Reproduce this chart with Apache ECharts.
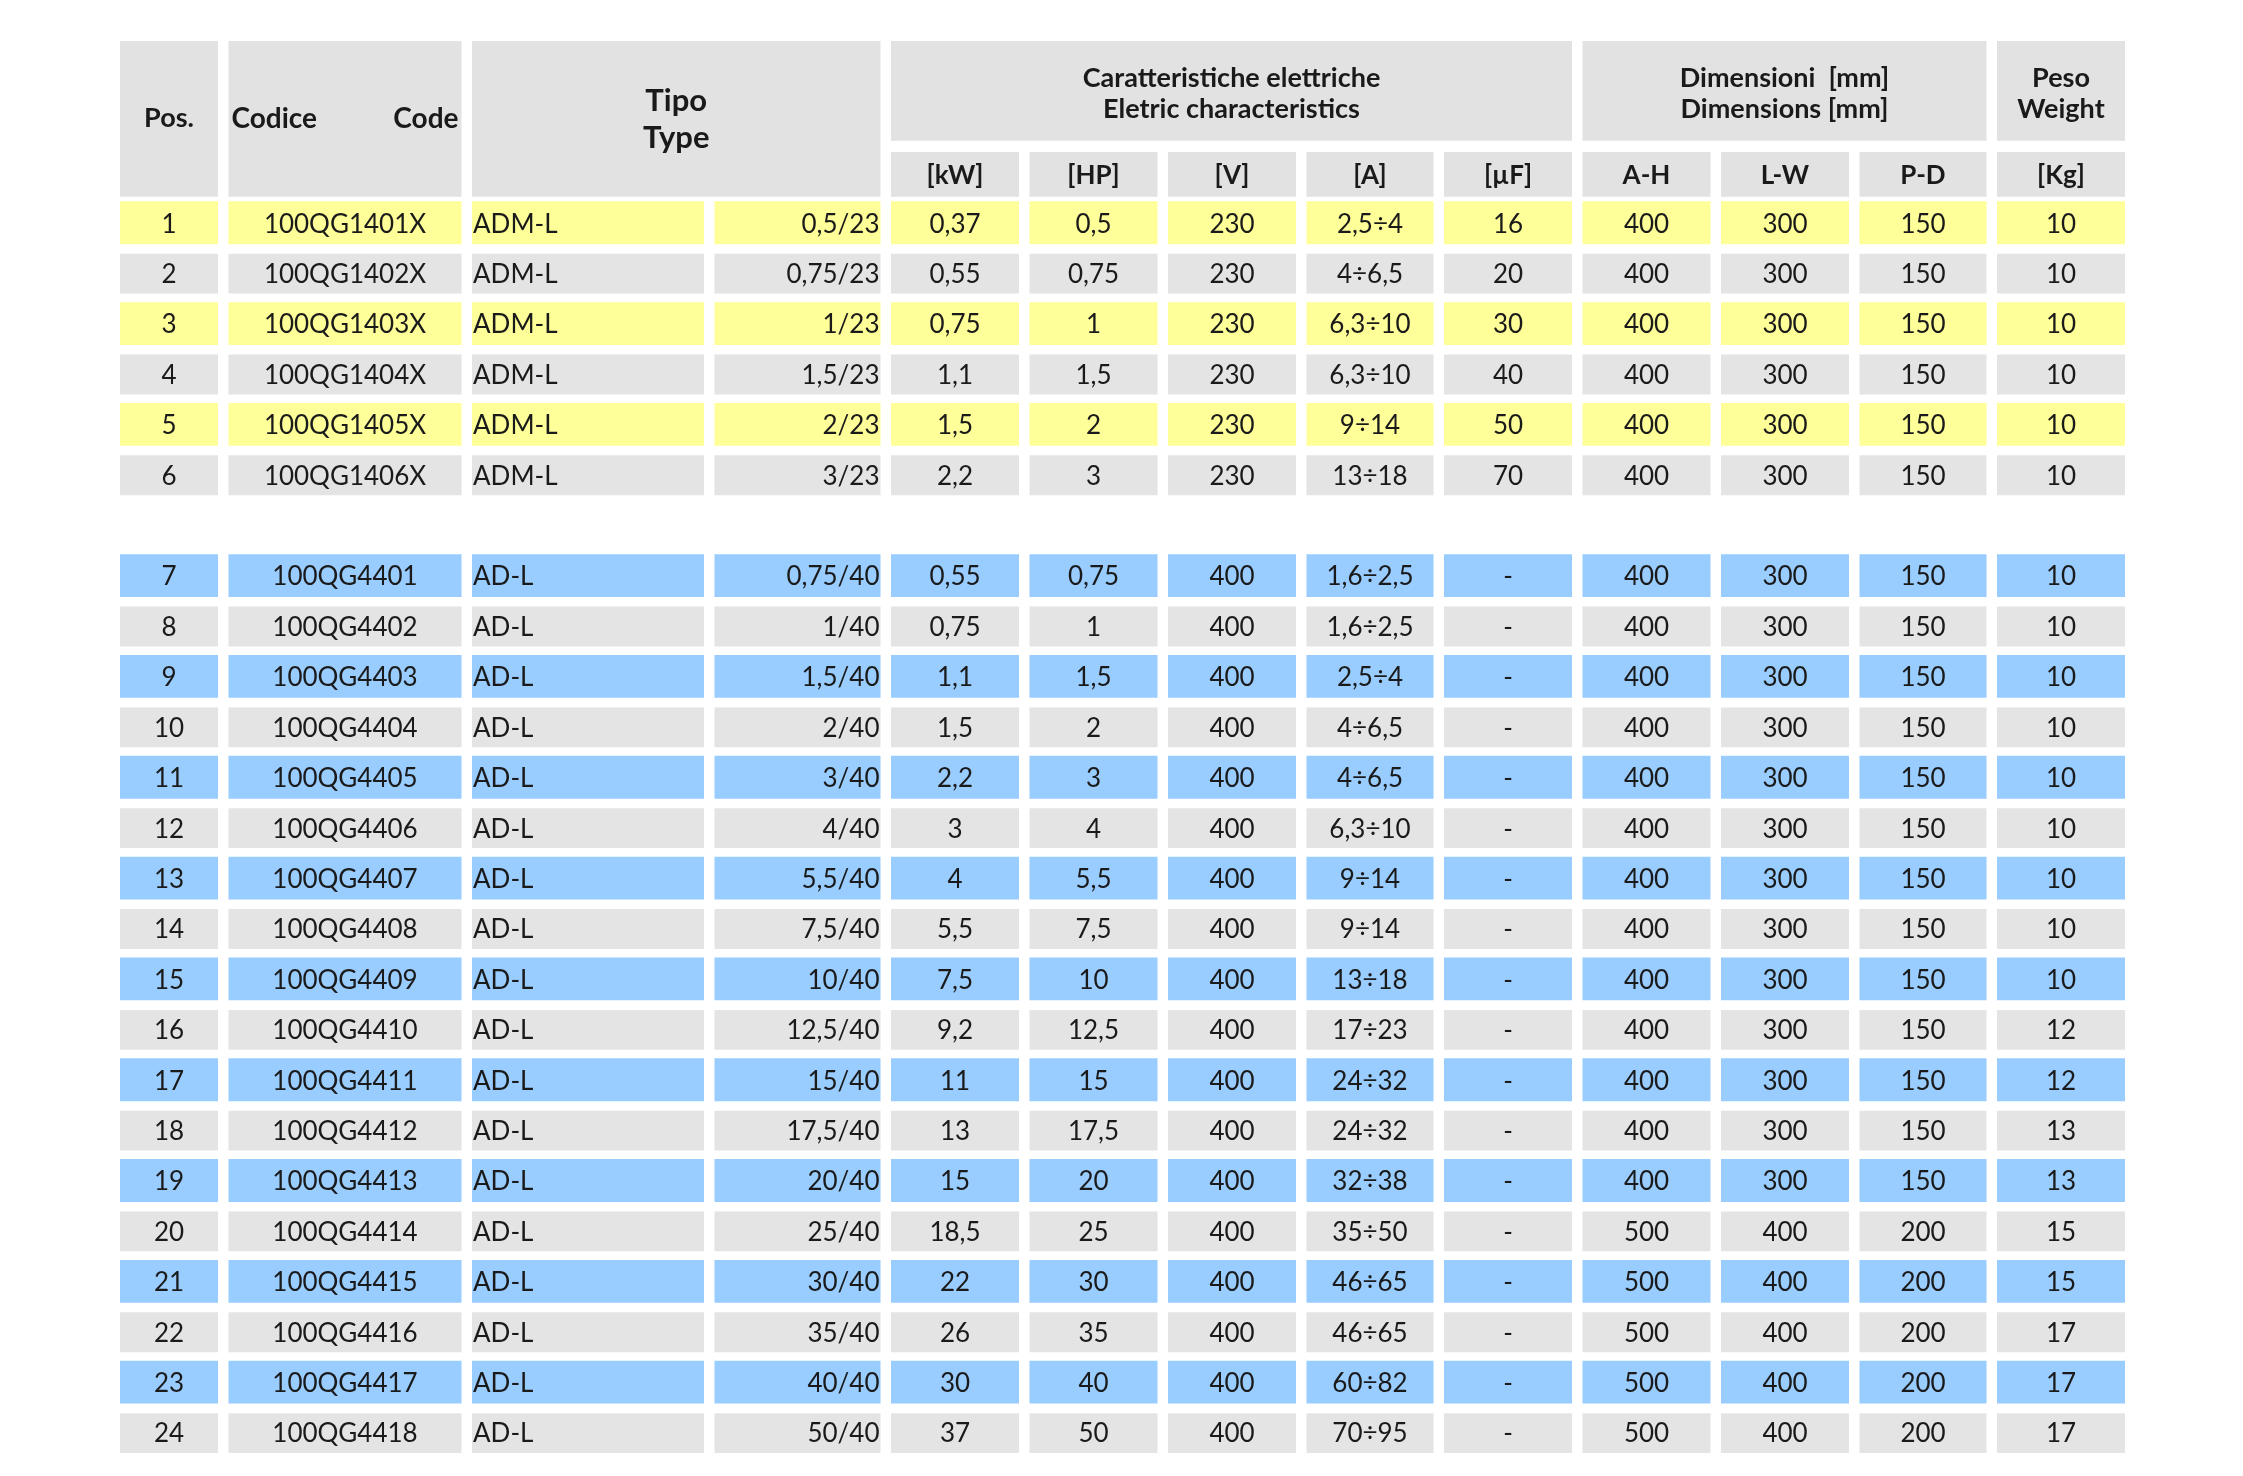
<!DOCTYPE html>
<html>
<head>
<meta charset="utf-8">
<script src="https://cdn.jsdelivr.net/npm/echarts@6/dist/echarts.min.js"></script>
<style>
html,body{margin:0;padding:0;background:#fff;}
#chart{width:2243px;height:1476px;}
</style>
</head>
<body>
<div id="chart"></div>
<script>
// ---------------- DATA ----------------
const positions = ['1','2','3','4','5','6','7','8','9','10','11','12','13','14','15','16','17','18','19','20','21','22','23','24'];
const codes = ['100QG1401X','100QG1402X','100QG1403X','100QG1404X','100QG1405X','100QG1406X',
  '100QG4401','100QG4402','100QG4403','100QG4404','100QG4405','100QG4406','100QG4407','100QG4408','100QG4409',
  '100QG4410','100QG4411','100QG4412','100QG4413','100QG4414','100QG4415','100QG4416','100QG4417','100QG4418'];
const types = ['ADM-L','ADM-L','ADM-L','ADM-L','ADM-L','ADM-L',
  'AD-L','AD-L','AD-L','AD-L','AD-L','AD-L','AD-L','AD-L','AD-L','AD-L','AD-L','AD-L','AD-L','AD-L','AD-L','AD-L','AD-L','AD-L'];
const ratings = ['0,5/23','0,75/23','1/23','1,5/23','2/23','3/23',
  '0,75/40','1/40','1,5/40','2/40','3/40','4/40','5,5/40','7,5/40','10/40','12,5/40','15/40','17,5/40','20/40','25/40','30/40','35/40','40/40','50/40'];
const kW = ['0,37','0,55','0,75','1,1','1,5','2,2',
  '0,55','0,75','1,1','1,5','2,2','3','4','5,5','7,5','9,2','11','13','15','18,5','22','26','30','37'];
const HP = ['0,5','0,75','1','1,5','2','3',
  '0,75','1','1,5','2','3','4','5,5','7,5','10','12,5','15','17,5','20','25','30','35','40','50'];
const volts = ['230','230','230','230','230','230',
  '400','400','400','400','400','400','400','400','400','400','400','400','400','400','400','400','400','400'];
const amps = ['2,5÷4','4÷6,5','6,3÷10','6,3÷10','9÷14','13÷18',
  '1,6÷2,5','1,6÷2,5','2,5÷4','4÷6,5','4÷6,5','6,3÷10','9÷14','9÷14','13÷18','17÷23','24÷32','24÷32','32÷38','35÷50','46÷65','46÷65','60÷82','70÷95'];
const microF = ['16','20','30','40','50','70',
  '-','-','-','-','-','-','-','-','-','-','-','-','-','-','-','-','-','-'];
const dimAH = ['400','400','400','400','400','400',
  '400','400','400','400','400','400','400','400','400','400','400','400','400','500','500','500','500','500'];
const dimLW = ['300','300','300','300','300','300',
  '300','300','300','300','300','300','300','300','300','300','300','300','300','400','400','400','400','400'];
const dimPD = ['150','150','150','150','150','150',
  '150','150','150','150','150','150','150','150','150','150','150','150','150','200','200','200','200','200'];
const weightKg = ['10','10','10','10','10','10',
  '10','10','10','10','10','10','10','10','10','12','12','13','13','15','15','17','17','17'];
// row group: 'A' = single-phase (ADM-L) block, 'B' = three-phase (AD-L) block
const rowGroup = ['A','A','A','A','A','A',
  'B','B','B','B','B','B','B','B','B','B','B','B','B','B','B','B','B','B'];

// header texts
const headPos = 'Pos.';
const headCodice = 'Codice';
const headCode = 'Code';
const headTipo = 'Tipo\nType';
const headGroups = ['Caratteristiche elettriche\nEletric characteristics', 'Dimensioni  [mm]\nDimensions [mm]', 'Peso\nWeight'];
const subHeads = ['[kW]','[HP]','[V]','[A]','[µF]','A-H','L-W','P-D','[Kg]'];

// ---------------- LAYOUT (not data) ----------------
const colW = [98,233,232,166,128,128,128,127,128,128,128,127,128];
const GAP = 10.5;
const colStart = [];
(function(){ let x = 0; for (let i = 0; i < colW.length; i++) { colStart.push(x); x += colW[i] + GAP; } })();
const ROW_H = 0.79;          // cell height in row units
const HEAD_TOP = -3.22;
const GROUP_BOT = -1.24;
const SUB_TOP = -1.02;
const HEAD_BOT = -0.13;
const C_GRAY = '#e4e4e4', C_HEAD = '#e2e2e2', C_YEL = '#ffff99', C_BLUE = '#99ccff';
const FONT_FAMILY = 'Lato, "Liberation Sans", sans-serif';
const TXT = '#1a1a1a';

const columnsData = [positions, codes, types, ratings, kW, HP, volts, amps, microF, dimAH, dimLW, dimPD, weightKg];
const colAlign = ['center','center','left','right','center','center','center','center','center','center','center','center','center'];

// build data cells
const cellData = [];
const cellInfo = [];
let slot = 0;
for (let r = 0; r < positions.length; r++) {
  if (r > 0 && rowGroup[r] !== rowGroup[r-1]) slot += 1; // blank separator row
  let fill;
  const odd = (r % 2 === 0);
  if (rowGroup[r] === 'A') fill = odd ? C_YEL : C_GRAY;
  else fill = odd ? C_BLUE : C_GRAY;
  for (let c = 0; c < columnsData.length; c++) {
    cellData.push([c, slot]);
    cellInfo.push({ text: columnsData[c][r], fill: fill, align: colAlign[c], colored: fill !== C_GRAY });
  }
  slot += 1;
}

// header cells: [colFrom, colTo, yTop, yBot]
const headCells = [];
const headInfo = [];
headCells.push([0, 0, HEAD_TOP, HEAD_BOT]); headInfo.push({ kind: 'pos', text: headPos });
headCells.push([1, 1, HEAD_TOP, HEAD_BOT]); headInfo.push({ kind: 'code' });
headCells.push([2, 3, HEAD_TOP, HEAD_BOT]); headInfo.push({ kind: 'tipo', text: headTipo });
headCells.push([4, 8, HEAD_TOP, GROUP_BOT]); headInfo.push({ kind: 'group', text: headGroups[0] });
headCells.push([9, 11, HEAD_TOP, GROUP_BOT]); headInfo.push({ kind: 'group', text: headGroups[1] });
headCells.push([12, 12, HEAD_TOP, GROUP_BOT]); headInfo.push({ kind: 'group', text: headGroups[2] });
for (let i = 0; i < subHeads.length; i++) {
  headCells.push([4 + i, 4 + i, SUB_TOP, HEAD_BOT]); headInfo.push({ kind: 'sub', text: subHeads[i] });
}

const chart = echarts.init(document.getElementById('chart'), null, { renderer: 'canvas' });

function cellRender(params, api) {
  const info = cellInfo[params.dataIndex];
  const c = api.value(0), s = api.value(1);
  const p0 = api.coord([colStart[c], s]);
  const p1 = api.coord([colStart[c] + colW[c], s + ROW_H]);
  let y0 = p0[1], y1 = p1[1];
  if (info.colored) { y0 -= 2; y1 += 1; }
  const w = p1[0] - p0[0];
  let tx;
  if (info.align === 'left') tx = p0[0] + 1;
  else if (info.align === 'right') tx = p1[0] - 1;
  else tx = p0[0] + w / 2;
  return {
    type: 'group',
    children: [
      { type: 'rect', shape: { x: p0[0], y: y0, width: w, height: y1 - y0 }, style: { fill: info.fill } },
      { type: 'text', style: { text: info.text, x: tx, y: (p0[1] + p1[1]) / 2 + 1, align: info.align, verticalAlign: 'middle',
          fill: TXT, font: '400 26px ' + FONT_FAMILY } }
    ]
  };
}

function headRender(params, api) {
  const info = headInfo[params.dataIndex];
  const c0 = api.value(0), c1 = api.value(1);
  const p0 = api.coord([colStart[c0], api.value(2)]);
  const p1 = api.coord([colStart[c1] + colW[c1], api.value(3)]);
  const w = p1[0] - p0[0], h = p1[1] - p0[1];
  const cx = p0[0] + w / 2, cy = p0[1] + h / 2;
  const children = [{ type: 'rect', shape: { x: p0[0], y: p0[1], width: w, height: h }, style: { fill: C_HEAD } }];
  const bold = 'bold ';
  if (info.kind === 'code') {
    children.push({ type: 'text', style: { text: headCodice, x: p0[0] + 3, y: cy, align: 'left', verticalAlign: 'middle', fill: TXT, font: bold + '28px ' + FONT_FAMILY } });
    children.push({ type: 'text', style: { text: headCode, x: p1[0] - 3, y: cy, align: 'right', verticalAlign: 'middle', fill: TXT, font: bold + '28px ' + FONT_FAMILY } });
  } else if (info.kind === 'pos') {
    children.push({ type: 'text', style: { text: info.text, x: cx, y: cy - 1, align: 'center', verticalAlign: 'middle', fill: TXT, font: bold + '27px ' + FONT_FAMILY } });
  } else if (info.kind === 'tipo') {
    children.push({ type: 'text', style: { text: info.text, x: cx, y: cy + 1, align: 'center', verticalAlign: 'middle', lineHeight: 37, fill: TXT, font: bold + '31px ' + FONT_FAMILY } });
  } else if (info.kind === 'group') {
    children.push({ type: 'text', style: { text: info.text, x: cx, y: cy + 3, align: 'center', verticalAlign: 'middle', lineHeight: 31, fill: TXT, font: bold + '27px ' + FONT_FAMILY } });
  } else {
    children.push({ type: 'text', style: { text: info.text, x: cx, y: cy + 1, align: 'center', verticalAlign: 'middle', fill: TXT, font: bold + '26px ' + FONT_FAMILY } });
  }
  return { type: 'group', children: children };
}

const totalW = colStart[colStart.length - 1] + colW[colW.length - 1];

chart.setOption({
  animation: false,
  backgroundColor: '#ffffff',
  grid: { left: 120, right: 2243 - 120 - totalW, top: 41, bottom: 23, containLabel: false },
  xAxis: { type: 'value', min: 0, max: totalW, show: false },
  yAxis: { type: 'value', min: HEAD_TOP, max: 24 + ROW_H, inverse: true, show: false },
  series: [
    { type: 'custom', renderItem: headRender, data: headCells, silent: true },
    { type: 'custom', renderItem: cellRender, data: cellData, silent: true }
  ]
});
</script>
</body>
</html>
